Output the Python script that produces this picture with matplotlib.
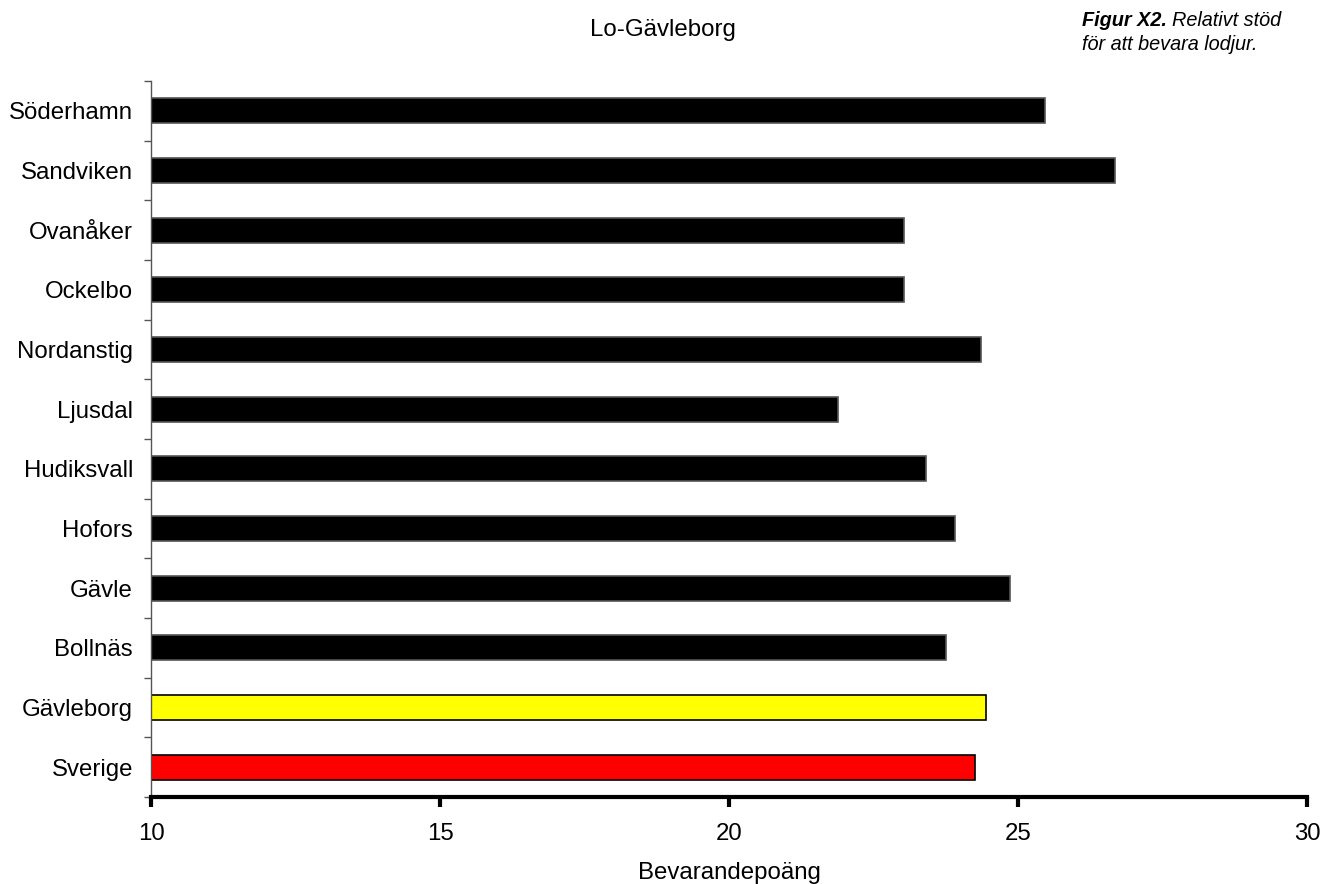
import matplotlib
matplotlib.use("Agg")
import matplotlib.pyplot as plt

categories = ["Söderhamn", "Sandviken", "Ovanåker", "Ockelbo", "Nordanstig", "Ljusdal",
              "Hudiksvall", "Hofors", "Gävle", "Bollnäs", "Gävleborg", "Sverige"]
values = [25.47, 26.68, 23.03, 23.03, 24.36, 21.89, 23.41, 23.91, 24.86, 23.75, 24.45, 24.26]
colors = ["black"] * 10 + ["#ffff00", "#ff0000"]
edges = ["#555555"] * 10 + ["black", "black"]
xticks = [10, 15, 20, 25, 30]

plt.rcParams['font.family'] = ['Liberation Sans', 'DejaVu Sans']

fig = plt.figure(figsize=(13.22, 8.84), dpi=100)
ax = fig.add_axes([151/1322, 87/884, (1307-151)/1322, (803-87)/884])

n = len(categories)
ypos = [n - 1 - i for i in range(n)]
ax.barh(ypos, [v - 10 for v in values], left=10, height=0.42, color=colors,
        edgecolor=edges, linewidth=1.2)

ax.set_xlim(10, 30)
ax.set_ylim(-0.5, n - 0.5)
ax.set_xticks(xticks)
ax.set_xticklabels([str(t) for t in xticks], fontsize=17.3)
ax.set_yticks(ypos)
ax.set_yticklabels(categories, fontsize=17.3)
ax.tick_params(axis='y', which='major', length=0, pad=13)
ax.set_yticks([i - 0.5 for i in range(n + 1)], minor=True)
ax.tick_params(axis='y', which='minor', length=5, width=1, color='#555555')
ax.tick_params(axis='x', length=7, width=3, color='black', pad=12)

for s in ['top', 'right']:
    ax.spines[s].set_visible(False)
ax.spines['left'].set_color('#555555')
ax.spines['left'].set_linewidth(1)
ax.spines['bottom'].set_linewidth(3)
ax.spines['bottom'].set_color('black')

ax.set_xlabel("Bevarandepoäng", fontsize=17.3, labelpad=12)

fig.text(663/1322, 1 - 30/884, "Lo-Gävleborg", fontsize=17.3, ha='center', va='center')
t1 = fig.text(1082/1322, 1 - 21/884, "Figur X2.", fontsize=14.3, style='italic',
              weight='bold', ha='left', va='center')
fig.canvas.draw()
bb = t1.get_window_extent()
fig.text((bb.x1 + 5) / 1322, 1 - 21/884, "Relativt stöd", fontsize=14.3, style='italic',
         ha='left', va='center')
fig.text(1082/1322, 1 - 45/884, "för att bevara lodjur.", fontsize=14.3, style='italic',
         ha='left', va='center')

fig.savefig("out.png", dpi=100)
